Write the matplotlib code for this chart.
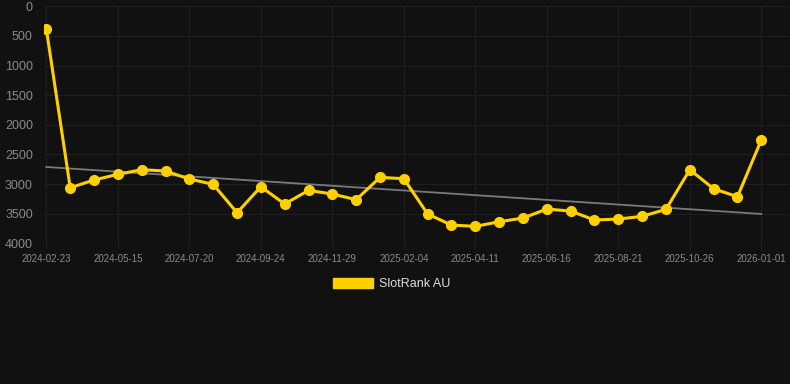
import matplotlib.pyplot as plt
import numpy as np
from matplotlib.patches import Patch

# rank values (lower is better), one point per sample date
ranks = [388, 3062, 2932, 2836, 2758, 2780, 2915, 3005, 3484, 3045, 3337,
         3107, 3168, 3264, 2887, 2910, 3506, 3692, 3714, 3636, 3574,
         3422, 3456, 3607, 3591, 3545, 3427, 2758, 3079, 3214, 2257]
tick_labels = ['2024-02-23', '2024-05-15', '2024-07-20', '2024-09-24', '2024-11-29',
               '2025-02-04', '2025-04-11', '2025-06-16', '2025-08-21', '2025-10-26',
               '2026-01-01']
y_ticks = [0, 500, 1000, 1500, 2000, 2500, 3000, 3500, 4000]
series_name = 'SlotRank AU'

bg = '#111111'
gold = '#FFD000'
grid_col = '#1f1f1f'

plt.rcParams['font.family'] = ['Liberation Sans', 'DejaVu Sans']

fig = plt.figure(figsize=(7.9, 3.84), dpi=100, facecolor=bg)
ax = fig.add_axes([44 / 790, 1 - 243.3 / 384, (790 - 44) / 790, (243.3 - 6.3) / 384])
ax.set_facecolor(bg)

x = np.arange(len(ranks))

# linear trend over the series
coef = np.polyfit(x, ranks, 1)
ax.plot(x, np.polyval(coef, x), color='#7a7a7a', linewidth=1.3, zorder=2)

ax.plot(x, ranks, color=gold, linewidth=2.2, marker='o', markersize=7,
        markerfacecolor=gold, markeredgecolor=gold, zorder=3)

ax.set_ylim(4000, 0)
ax.set_yticks(y_ticks)
ax.set_xlim(-0.1, 30 + (790 - 761.3) / 23.82)
ax.set_xticks(x[::3])
ax.set_xticklabels(tick_labels)

ax.grid(True, color=grid_col, linewidth=0.75)
ax.set_axisbelow(True)
for s in ax.spines.values():
    s.set_visible(False)

ax.tick_params(axis='x', colors=grid_col, length=4, width=0.75, pad=4,
               labelsize=7, labelcolor='#8a8a8a')
ax.tick_params(axis='y', colors=grid_col, length=0, pad=8,
               labelsize=9, labelcolor='#8a8a8a')

handle = Patch(facecolor=gold, edgecolor=gold)
leg = fig.legend([handle], [series_name], loc='center', bbox_to_anchor=(0.496, 1 - 284 / 384),
                 frameon=False, fontsize=9, handlelength=3.2, handleheight=0.95,
                 handletextpad=0.5)
for t in leg.get_texts():
    t.set_color('#dddddd')

plt.savefig('out.png', facecolor=bg)
